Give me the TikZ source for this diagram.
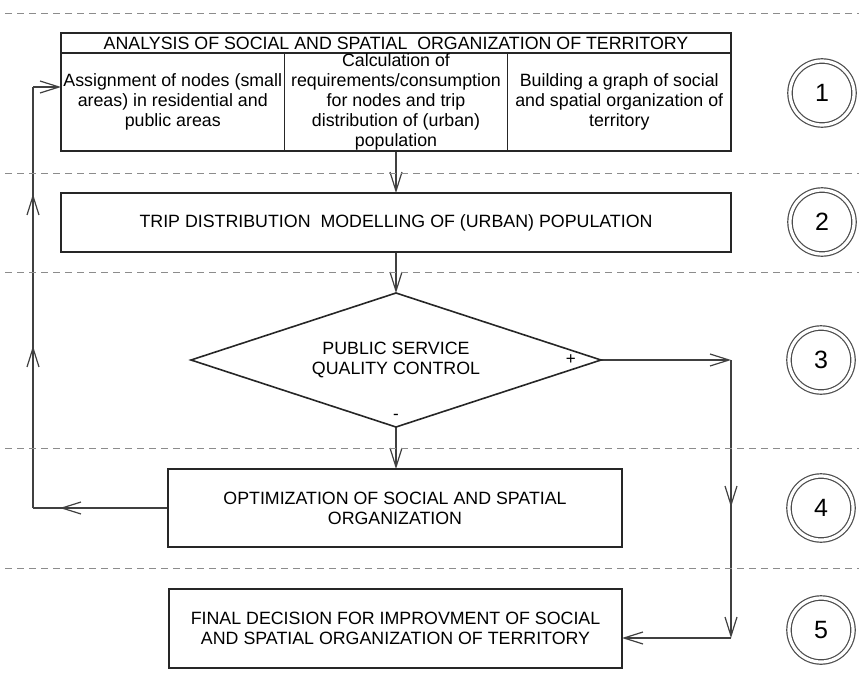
\documentclass[tikz,border=0pt]{standalone}
\usepackage{fontspec}
\setmainfont{Liberation Sans}
\usepackage{tikz}
\usetikzlibrary{positioning,backgrounds,arrows.meta,shapes.geometric,decorations.markings}

\begin{document}
\begin{tikzpicture}[x=1pt,y=-1pt]
        \tikzset{
          barb/.tip={Straight Barb[length=19pt,width=12pt,line width=1.2pt]},
          box/.style={
            draw=black!85,line width=1.6pt,align=center,inner sep=0pt,outer sep=0pt,
            font=\fontsize{17.8}{20}\selectfont,text=black,
          },
          cell/.style={box,minimum height=98pt},
          step circle/.style={
            circle,draw=black!70,line width=1.2pt,double,double distance=3.2pt,
            minimum size=64pt,inner sep=0pt,font=\fontsize{25}{25}\selectfont,
          },
          sign/.style={font=\fontsize{17}{17}\selectfont,inner sep=1pt},
          separator/.style={draw=black!45,line width=1pt,dash pattern=on 7pt off 5pt},
          connector/.style={draw=black!75,line width=1.2pt},
          mid barb/.style={postaction={decorate,decoration={markings,
            mark=at position #1 with {\arrow{barb}}}}},
          }
        \useasboundingbox (0,0) rectangle (859,699);
        \foreach \y in {13,173,272,448,568}
          \draw[separator] (5,\y) -- (859,\y);

        \node[box, minimum width=670pt, minimum height=20pt] (head) at (396,43)
          {ANALYSIS OF SOCIAL AND SPATIAL\ \ ORGANIZATION OF TERRITORY};
        \node[cell, minimum width=223pt, below=0pt of head] (c2)
          {Calculation of\\requirements/consumption\\for nodes and trip\\distribution of (urban)\\population};
        \node[cell, minimum width=223.5pt, left=0pt of c2] (c1)
          {Assignment of nodes (small\\areas) in residential and\\public areas};
        \node[cell, minimum width=223.5pt, right=0pt of c2] (c3)
          {Building a graph of social\\and spatial organization of\\territory};
        \node[box, minimum width=670pt, minimum height=59pt] (trip) at (396,222.5)
          {TRIP DISTRIBUTION\ \ MODELLING OF (URBAN) POPULATION};
        \node[box, diamond, shape aspect=3.06, minimum width=410pt, minimum height=134pt] (control) at (396,360)
          {PUBLIC SERVICE\\QUALITY CONTROL};
        \node[sign, left=24pt of control.east] (plus) {+};
        \node[sign, above=6pt of control.south] (minus) {-};
        \node[box, minimum width=454pt, minimum height=78pt] (optim) at (395,508)
          {OPTIMIZATION OF SOCIAL AND SPATIAL\\ORGANIZATION};
        \node[box, minimum width=453pt, minimum height=79pt] (final) at (395.5,628.5)
          {FINAL DECISION FOR IMPROVMENT OF SOCIAL\\AND SPATIAL ORGANIZATION OF TERRITORY};

        \node[step circle] (s1) at (822,93) {1};
        \node[step circle] (s2) at (822,222) {2};
        \node[step circle] (s3) at (821,360) {3};
        \node[step circle] (s4) at (821,508) {4};
        \node[step circle] (s5) at (821,630) {5};

        \coordinate (r1) at (731,360);
        \coordinate (r2) at (731,638);
        \coordinate (l1) at (33,508);
        \coordinate (l2) at (33,87);

        \begin{scope}[on background layer]
            \draw[connector,-barb] (c2.south) -- (trip.north);
            \draw[connector,-barb] (trip.south) -- (control.north);
            \draw[connector,-barb] (control.south) -- (control.south |- optim.north);
            \draw[connector,-barb] (control.east) -- (r1);
            \draw[connector,-barb,mid barb=147pt] (r1) -- (r2);
            \draw[connector,-barb] (r2) -- (final.east |- r2);
            \draw[connector,mid barb=108pt] (optim.west) -- (l1);
            \draw[connector,mid barb=162pt,mid barb=314pt] (l1) -- (l2);
            \draw[connector,-barb] (l2) -- (c1.west |- l2);
        \end{scope}
      \end{tikzpicture}
\end{document}
